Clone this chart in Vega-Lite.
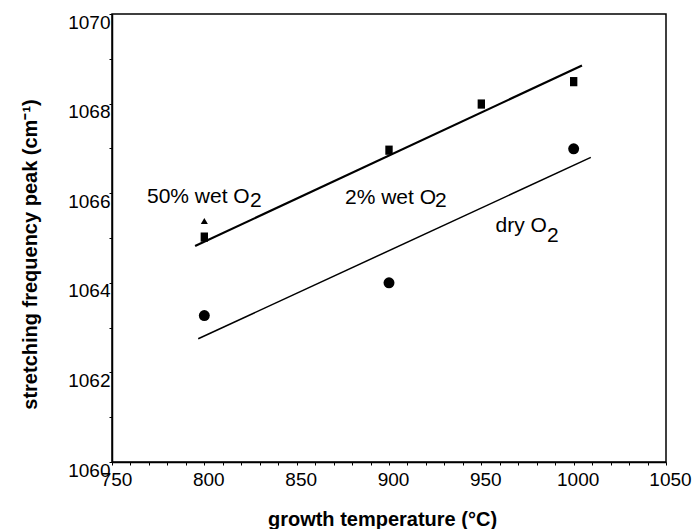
{
  "$schema": "https://vega.github.io/schema/vega-lite/v6.json",
  "autosize": {"type": "none"},
  "padding": {"left": 112, "top": 14, "right": 29, "bottom": 67},
  "width": 554,
  "height": 448,
  "background": "white",
  "config": {
    "view": {"stroke": "black", "strokeWidth": 1.5},
    "font": "Liberation Sans",
    "axis": {
      "grid": false,
      "domainColor": "black",
      "domainWidth": 1.5,
      "tickColor": "black",
      "tickWidth": 1,
      "tickSize": 3,
      "labelColor": "black",
      "labelFont": "Liberation Sans",
      "labelFontSize": 19,
      "labelFlush": false,
      "labelOverlap": false,
      "titleColor": "black",
      "titleFont": "Liberation Sans",
      "titleFontSize": 20,
      "titleFontWeight": "bold"
    }
  },
  "datasets": {
    "points": [
      {"series": "50% wet O2", "t": 800, "f": 1065.38},
      {"series": "2% wet O2", "t": 800, "f": 1065.02},
      {"series": "2% wet O2", "t": 900, "f": 1066.96},
      {"series": "2% wet O2", "t": 950, "f": 1067.99},
      {"series": "2% wet O2", "t": 1000, "f": 1068.49},
      {"series": "dry O2", "t": 800, "f": 1063.27},
      {"series": "dry O2", "t": 900, "f": 1064.0},
      {"series": "dry O2", "t": 1000, "f": 1066.99}
    ],
    "fits": [
      {"fit": "wet", "t": 795, "f": 1064.82},
      {"fit": "wet", "t": 1004.5, "f": 1068.85},
      {"fit": "dry", "t": 796.7, "f": 1062.75},
      {"fit": "dry", "t": 1009.3, "f": 1066.8}
    ],
    "labels": [
      {"text": "50% wet O", "t": 768.95, "f": 1065.78},
      {"text": "2", "t": 824.7, "f": 1065.69},
      {"text": "2% wet O", "t": 876.15, "f": 1065.77},
      {"text": "2", "t": 924.9, "f": 1065.69},
      {"text": "dry O", "t": 957.7, "f": 1065.14},
      {"text": "2", "t": 985.5, "f": 1064.92}
    ]
  },
  "encoding": {
    "x": {
      "field": "t",
      "type": "quantitative",
      "scale": {"domain": [750, 1050], "nice": false, "zero": false},
      "axis": {
        "values": [750, 760, 770, 780, 790, 800, 810, 820, 830, 840, 850, 860, 870, 880, 890, 900, 910, 920, 930, 940, 950, 960, 970, 980, 990, 1000, 1010, 1020, 1030, 1040, 1050],
        "format": "d",
        "labelExpr": "datum.value % 50 === 0 ? datum.label : ''",
        "labelPadding": 5,
        "labelOffset": 4,
        "title": "growth temperature (°C)",
        "titleX": 270,
        "titleY": 63,
        "titleBaseline": "alphabetic"
      }
    },
    "y": {
      "field": "f",
      "type": "quantitative",
      "scale": {"domain": [1060, 1070], "nice": false, "zero": false},
      "axis": {
        "values": [1060, 1060.5, 1061, 1061.5, 1062, 1062.5, 1063, 1063.5, 1064, 1064.5, 1065, 1065.5, 1066, 1066.5, 1067, 1067.5, 1068, 1068.5, 1069, 1069.5, 1070],
        "format": "d",
        "labelExpr": "datum.value % 2 === 0 ? datum.label : ''",
        "labelBaseline": "top",
        "labelOffset": -1,
        "labelPadding": -1,
        "title": "stretching frequency peak (cm⁻¹)",
        "titleX": -76,
        "titleY": 240,
        "titleBaseline": "alphabetic"
      }
    }
  },
  "layer": [
    {
      "data": {"name": "fits"},
      "transform": [{"filter": "datum.fit === 'wet'"}],
      "mark": {"type": "line", "color": "black", "strokeWidth": 2.2},
      "encoding": {}
    },
    {
      "data": {"name": "fits"},
      "transform": [{"filter": "datum.fit === 'dry'"}],
      "mark": {"type": "line", "color": "black", "strokeWidth": 1.5},
      "encoding": {}
    },
    {
      "data": {"name": "points"},
      "mark": {"type": "point", "filled": true, "opacity": 1, "color": "black", "strokeWidth": 0},
      "encoding": {
        "shape": {
          "field": "series",
          "type": "nominal",
          "scale": {"domain": ["50% wet O2", "2% wet O2", "dry O2"], "range": ["triangle-up", "M-0.8,-1H0.8V1H-0.8Z", "circle"]},
          "legend": null
        },
        "size": {
          "field": "series",
          "type": "nominal",
          "scale": {"domain": ["50% wet O2", "2% wet O2", "dry O2"], "range": [50, 120, 26]},
          "legend": null
        }
      }
    },
    {
      "data": {"name": "labels"},
      "mark": {"type": "text", "align": "left", "baseline": "alphabetic", "font": "Liberation Sans", "fontSize": 21, "color": "black"},
      "encoding": {"text": {"field": "text", "type": "nominal"}}
    }
  ]
}
